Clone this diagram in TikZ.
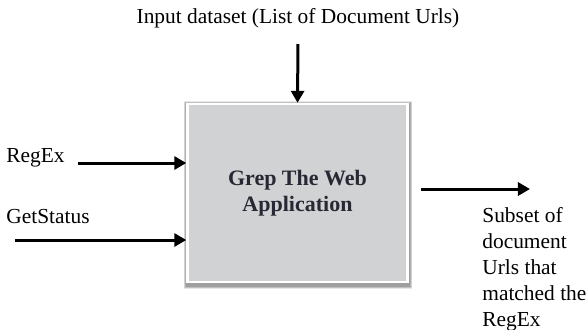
\documentclass[tikz,border=0pt]{standalone}
\usepackage{fontspec}
\setmainfont{Liberation Serif}
\usepackage{xcolor}
\usetikzlibrary{arrows.meta, positioning, backgrounds}
\definecolor{boxgray}{RGB}{209,210,212}
\definecolor{boxtext}{RGB}{40,40,52}

\begin{document}
\begin{tikzpicture}[
  x=0.5pt, y=-0.5pt,
  appbox/.style={rectangle, draw=white, line width=1.2pt, fill=boxgray,
                 minimum width=110pt, minimum height=89pt,
                 font=\fontsize{11}{13}\selectfont\bfseries, text=boxtext, align=center},
  lbl/.style={font=\fontsize{10.7}{13}\selectfont, inner sep=0pt},
  arr/.style={-{Triangle[length=6pt, width=6.5pt]}, line width=1.5pt}
]
  \useasboundingbox (0,0) rectangle (586,329);

  % the application box
  \node[appbox] (app) at (297.5,193) {Grep The Web\\Application};

  % soft shadow round the box
  \begin{scope}[on background layer]
    \foreach \d in {0.5,1.0,1.5,2.0,2.5}
      \fill[black, opacity=0.09]
        ([shift={(-\d,-\d+1)}]app.north west) rectangle ([shift={(\d+1,\d+3)}]app.south east);
  \end{scope}

  % inputs
  \node[lbl] (inp) at (298,18) {Input dataset (List of Document Urls)};
  \coordinate (inps) at (298,44);
  \node[lbl, anchor=west] (rx) at (6,158) {RegEx};
  \coordinate (rxs) at (78,163);
  \node[lbl, anchor=west] (gs) at (6,217) {GetStatus};
  \coordinate (gss) at (15,240);

  % output
  \coordinate (outs) at (421,189);
  \coordinate (oute) at (530,189);
  \node[lbl, anchor=north west, align=left] (out) at (482,207)
    {Subset of\\document\\Urls that\\matched the\\RegEx};

  \draw[arr] (inps) -- (app.north);
  \draw[arr] (rxs)  -- (rxs -| app.west);
  \draw[arr] (gss)  -- (gss -| app.west);
  \draw[arr] (outs) -- (oute);
\end{tikzpicture}
\end{document}
